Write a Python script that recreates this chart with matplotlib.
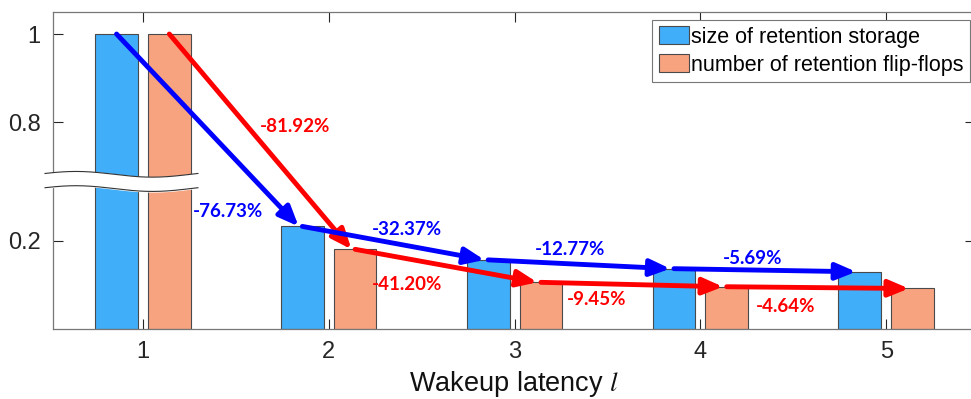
import numpy as np
import matplotlib
matplotlib.use('Agg')
import matplotlib.pyplot as plt
import matplotlib.transforms as mtransforms

# data
latency = [1, 2, 3, 4, 5]
storage = [1.0, 0.233, 0.157, 0.137, 0.130]
flipflops = [1.0, 0.181, 0.106, 0.096, 0.092]
storage_drop = ['-76.73%', '-32.37%', '-12.77%', '-5.69%']
flipflop_drop = ['-81.92%', '-41.20%', '-9.45%', '-4.64%']
storage_lbl_pos = [(1.46, 0.268), (2.42, 0.227), (3.30, 0.180), (4.28, 0.161)]
flipflop_lbl_pos = [(1.82, 0.790), (2.42, 0.100), (3.44, 0.068), (4.46, 0.052)]
yticks = [0.2, 0.8, 1.0]
yticklabels = ['0.2', '0.8', '1']

c_blue = '#41AEF9'
c_orange = '#F8A380'


# broken y axis: squeeze the 0.3..0.7 range
def fwd(y):
    y = np.asarray(y, dtype=float)
    return np.where(y < 0.3, y, np.where(y < 0.7, 0.3 + (y - 0.3) * 0.175, y - 0.33))


def inv(d):
    d = np.asarray(d, dtype=float)
    return np.where(d < 0.3, d, np.where(d < 0.37, 0.3 + (d - 0.3) / 0.175, d + 0.33))


plt.rcParams['font.family'] = ['Liberation Sans', 'DejaVu Sans']
plt.rcParams['mathtext.fontset'] = 'stix'
fig = plt.figure(figsize=(9.71, 3.99), dpi=100)
ax = fig.add_axes([53 / 971, 70 / 399, 922 / 971, 317 / 399])
ax.set_yscale('function', functions=(fwd, inv))

x = np.array(latency, dtype=float)
off = 0.142
w = 0.23
ax.bar(x - off, storage, w, color=c_blue, edgecolor='#4a4a4a', linewidth=0.8,
       label='size of retention storage', zorder=2)
ax.bar(x + off, flipflops, w, color=c_orange, edgecolor='#4a4a4a', linewidth=0.8,
       label='number of retention flip-flops', zorder=2)

ax.set_xlim(0.516, 5.478)
ax.set_ylim(0, 1.05)
ax.set_xticks(latency)
ax.set_yticks(yticks)
ax.set_yticklabels(yticklabels)
ax.tick_params(direction='in', top=True, right=True, labelsize=17,
               colors='#262626', length=7, width=0.8, pad=9)
ax.minorticks_off()
for s in ax.spines.values():
    s.set_color('#777777')
    s.set_linewidth(0.9)
ax.set_xlabel('Wakeup latency $l$', fontsize=19.5, color='#111111', labelpad=4)

# axis break band
trans = mtransforms.blended_transform_factory(ax.transData, ax.transAxes)
xb = np.linspace(0.473, 1.296, 200)
wave = 0.009 * np.sin((xb - 0.473) / (1.296 - 0.473) * 2 * np.pi + 0.3)
top = 0.488 + wave
bot = 0.443 + wave
ax.fill_between(xb, bot, top, color='white', transform=trans, clip_on=False, zorder=3)
ax.plot(xb, top, color='#333333', lw=0.8, transform=trans, clip_on=False, zorder=3)
ax.plot(xb, bot, color='#333333', lw=0.8, transform=trans, clip_on=False, zorder=3)

# arrows
aprops = dict(shrinkA=0, shrinkB=0, lw=3.5)
for i in range(4):
    ax.annotate('', xy=(x[i + 1] - off - 0.02, storage[i + 1]), xytext=(x[i] - off, storage[i]),
                arrowprops=dict(arrowstyle='-|>,head_length=1.2,head_width=0.5',
                                color='#0000FF', **aprops), zorder=5)
    ax.annotate('', xy=(x[i + 1] + off - 0.02, flipflops[i + 1]), xytext=(x[i] + off, flipflops[i]),
                arrowprops=dict(arrowstyle='-|>,head_length=1.2,head_width=0.5',
                                color='#FF0000', **aprops), zorder=5)

for t, (px, py) in zip(storage_drop, storage_lbl_pos):
    ax.text(px, py, t, color='#0000FF', fontsize=13.5, fontweight='bold',
            family=['Lato', 'DejaVu Sans'], ha='center', va='center', zorder=6)
for t, (px, py) in zip(flipflop_drop, flipflop_lbl_pos):
    ax.text(px, py, t, color='#FF0000', fontsize=13.5, fontweight='bold',
            family=['Lato', 'DejaVu Sans'], ha='center', va='center', zorder=6)

leg = ax.legend(loc='upper right', bbox_to_anchor=(0.9946, 0.9748), fontsize=15.5,
                frameon=True, fancybox=False, framealpha=1,
                handlelength=1.4, handleheight=0.9, handletextpad=0.1,
                borderpad=0.3, labelspacing=0.3, borderaxespad=0)
leg.get_frame().set_edgecolor('#777777')
leg.get_frame().set_linewidth(0.8)

plt.savefig('out.png', dpi=100)
